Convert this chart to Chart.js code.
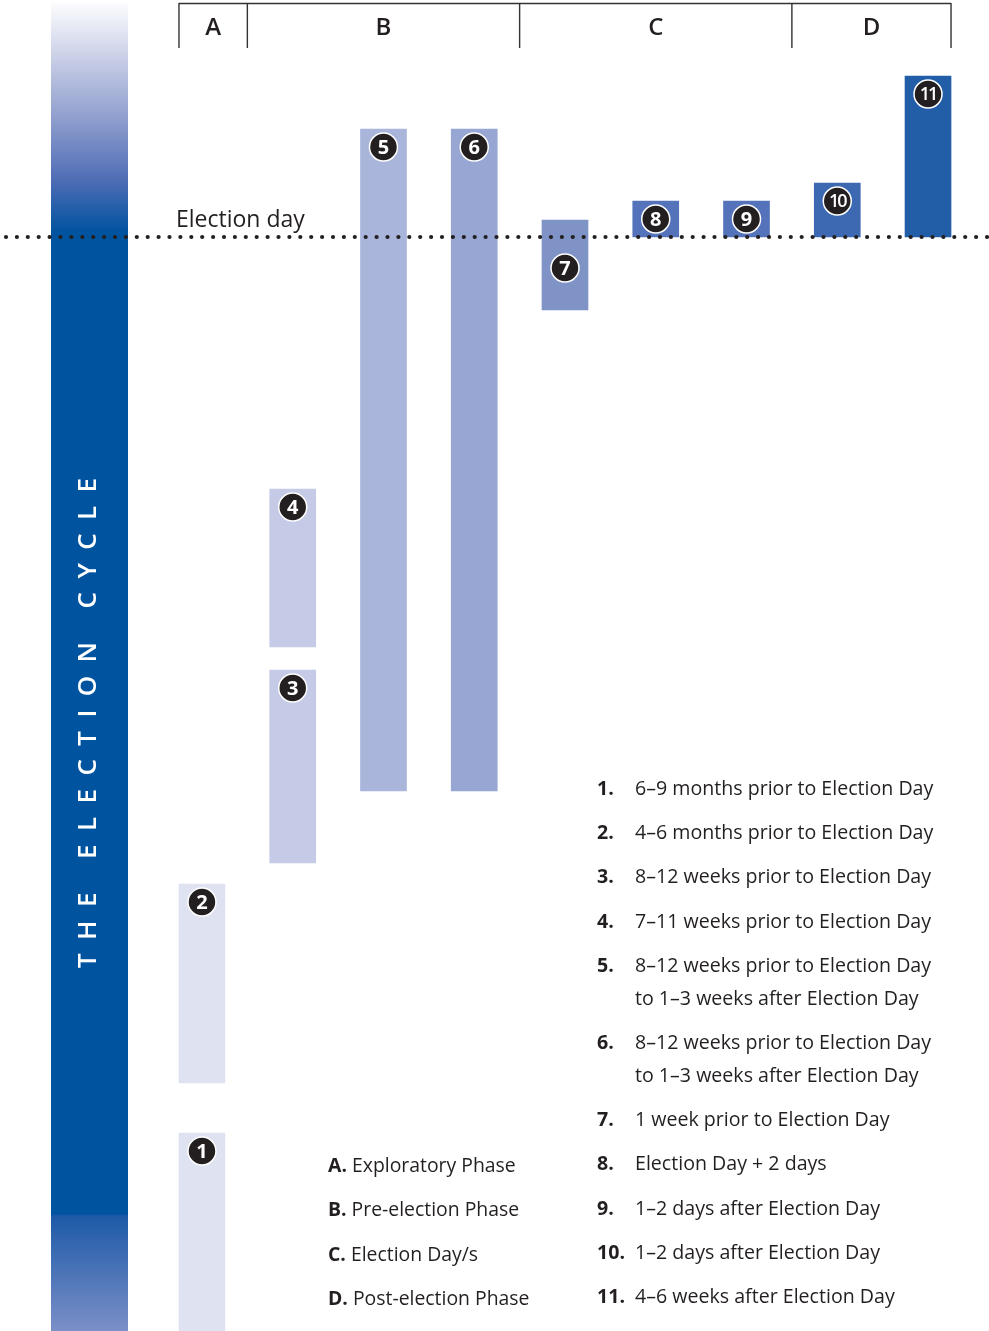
<!DOCTYPE html>
<html>
<head>
<meta charset="utf-8">
<script src="https://cdn.jsdelivr.net/npm/chart.js@4.4.0/dist/chart.umd.min.js"></script>
<style>
  body { margin: 0; background: #fff; font-family: "Open Sans", sans-serif; color: #231f20; }
  #wrap { position: relative; width: 989px; height: 1331px; overflow: hidden; }
  .row { position: absolute; font-size: 19.6px; line-height: 22px; white-space: nowrap; }
  .row b { position: absolute; left: 0; font-weight: 700; }
  .row span { position: absolute; left: 38px; }
  .phase { position: absolute; left: 328px; font-size: 19.4px; line-height: 22px; white-space: nowrap; }
  .phase b { font-weight: 700; }
</style>
</head>
<body>
<div id="wrap">
  <canvas id="chart"></canvas>
  <div id="legend"></div>
</div>
<script>
// columns along the x axis (bars 1-2 and 3-4 share a column)
const columnLabels = ['c1', 'c2', 'c3', 'c4', 'c5', 'c6', 'c7', 'c8', 'c9'];
// steps 1..11: column, start and end (time relative to election day, up = later)
const stepLabels = ['1', '2', '3', '4', '5', '6', '7', '8', '9', '10', '11'];
const stepColumn = [0, 0, 1, 1, 2, 3, 4, 5, 6, 7, 8];
const stepStart = [-109.4, -84.6, -62.6, -41.0, -55.4, -55.4, -7.3, 0, 0, 0, 0];
const stepEnd = [-89.6, -64.7, -43.3, -25.2, 10.8, 10.8, 1.7, 3.6, 3.6, 5.4, 16.1];
const stepColors = ['#dfe3f1', '#dfe3f1', '#c5cae6', '#c5cae6', '#aab5dc', '#97a6d2',
  '#7f93c7', '#5473bb', '#5473bb', '#3c69b2', '#225ea8'];
const stepText = [
  ['6–9 months prior to Election Day'],
  ['4–6 months prior to Election Day'],
  ['8–12 weeks prior to Election Day'],
  ['7–11 weeks prior to Election Day'],
  ['8–12 weeks prior to Election Day', 'to 1–3 weeks after Election Day'],
  ['8–12 weeks prior to Election Day', 'to 1–3 weeks after Election Day'],
  ['1 week prior to Election Day'],
  ['Election Day + 2 days'],
  ['1–2 days after Election Day'],
  ['1–2 days after Election Day'],
  ['4–6 weeks after Election Day']
];
// phases across the top
const phaseLabels = ['A', 'B', 'C', 'D'];
const phaseFirstCol = [0, 1, 4, 7];
const phaseLastCol = [0, 3, 6, 8];
const phaseNames = ['Exploratory Phase', 'Pre-election Phase', 'Election Day/s', 'Post-election Phase'];

const yMin = -109.4, yMax = 23.7;
const BAR_W = 46;

const framePlugin = {
  id: 'frame',
  beforeDraw(chart) {
    const ctx = chart.ctx;
    const h = chart.height;
    // left band
    ctx.save();
    const g = ctx.createLinearGradient(0, 0, 0, h);
    g.addColorStop(0, '#ffffff');
    g.addColorStop(60 / h, '#c8cde6');
    g.addColorStop(120 / h, '#8d9dcd');
    g.addColorStop(180 / h, '#4f6db5');
    g.addColorStop(232 / h, '#00539f');
    g.addColorStop(1214 / h, '#00539f');
    g.addColorStop(1216 / h, '#1d5aa7');
    g.addColorStop(1, '#7b8fc8');
    ctx.fillStyle = g;
    ctx.fillRect(51, 0, 77, h);
    // vertical title
    ctx.translate(88, 968);
    ctx.rotate(-Math.PI / 2);
    ctx.fillStyle = '#ffffff';
    ctx.font = '600 26px "Open Sans"';
    ctx.textBaseline = 'middle';
    const title = 'THE ELECTION CYCLE';
    let x = 0;
    for (const ch of title) {
      ctx.fillText(ch, x, 1);
      x += ctx.measureText(ch).width + 13.4;
    }
    ctx.restore();
  },
  afterDatasetsDraw(chart) {
    const ctx = chart.ctx;
    const xs = chart.scales.x, ys = chart.scales.y;
    const zero = ys.getPixelForValue(0);
    const slot = xs.getPixelForValue(1) - xs.getPixelForValue(0);

    // step badges
    const meta = chart.getDatasetMeta(0);
    meta.data.forEach((bar, i) => {
      const barTop = Math.min(bar.y, bar.base);
      const barBottom = Math.max(bar.y, bar.base);
      let cy = barTop + 18;
      // bar barely reaching above the line: badge goes below the line
      if (barTop < zero && zero - barTop < 30 && barBottom > zero + 20) cy = zero + 31;
      ctx.save();
      ctx.beginPath();
      ctx.arc(bar.x, cy, 14, 0, Math.PI * 2);
      ctx.fillStyle = '#231f20';
      ctx.fill();
      ctx.lineWidth = 1.5;
      ctx.strokeStyle = '#ffffff';
      ctx.stroke();
      ctx.fillStyle = '#ffffff';
      ctx.textAlign = 'center';
      ctx.textBaseline = 'middle';
      const lbl = stepLabels[i];
      ctx.font = lbl.length > 1 ? '600 18px "Open Sans"' : '700 20px "Open Sans"';
      if (lbl.length > 1) ctx.letterSpacing = '-2px';
      ctx.fillText(lbl, bar.x, cy + 1);
      ctx.restore();
    });

    // election day dotted line
    ctx.save();
    ctx.fillStyle = '#231f20';
    for (let x = 6; x < chart.width - 2; x += 10.9) {
      ctx.beginPath();
      ctx.arc(x, zero, 2.1, 0, Math.PI * 2);
      ctx.fill();
    }
    ctx.font = '400 23px "Open Sans"';
    ctx.textBaseline = 'alphabetic';
    ctx.fillText('Election day', 176, zero - 10);
    ctx.restore();

    // phase header
    ctx.save();
    ctx.strokeStyle = '#333333';
    ctx.lineWidth = 1.4;
    const edges = [];
    phaseLabels.forEach((p, i) => {
      const l = i === 0 ? xs.getPixelForValue(phaseFirstCol[i]) - BAR_W / 2
                        : xs.getPixelForValue(phaseFirstCol[i]) - slot / 2;
      const r = i === phaseLabels.length - 1 ? xs.getPixelForValue(phaseLastCol[i]) + BAR_W / 2
                        : xs.getPixelForValue(phaseLastCol[i]) + slot / 2;
      edges.push([l, r]);
    });
    ctx.beginPath();
    ctx.moveTo(edges[0][0], 3.5);
    ctx.lineTo(edges[edges.length - 1][1], 3.5);
    edges.forEach(([l, r]) => { ctx.moveTo(l, 3); ctx.lineTo(l, 48); });
    ctx.moveTo(edges[edges.length - 1][1], 3);
    ctx.lineTo(edges[edges.length - 1][1], 48);
    ctx.stroke();
    ctx.fillStyle = '#231f20';
    ctx.font = '600 24px "Open Sans"';
    ctx.textAlign = 'center';
    ctx.textBaseline = 'middle';
    edges.forEach(([l, r], i) => ctx.fillText(phaseLabels[i], (l + r) / 2, 28));
    ctx.restore();
  }
};

new Chart(document.getElementById('chart'), {
  type: 'bar',
  data: {
    labels: columnLabels,
    datasets: [{
      data: stepLabels.map((s, i) => ({ x: columnLabels[stepColumn[i]], y: [stepStart[i], stepEnd[i]] })),
      backgroundColor: stepColors,
      borderWidth: 0,
      borderSkipped: false,
      barThickness: BAR_W
    }]
  },
  options: {
    responsive: true,
    maintainAspectRatio: false,
    animation: false,
    layout: { padding: { left: 156.6, right: 15.6, top: 0, bottom: 0 } },
    scales: {
      x: { type: 'category', display: false, offset: true },
      y: { display: false, min: yMin, max: yMax }
    },
    plugins: { legend: { display: false }, tooltip: { enabled: false } }
  },
  plugins: [framePlugin]
});

// text legends
const legend = document.getElementById('legend');
let rowTop = 777;
stepText.forEach((lines, i) => {
  lines.forEach((t, j) => {
    const d = document.createElement('div');
    d.className = 'row';
    d.style.left = '597px';
    d.style.top = rowTop + 'px';
    d.style.width = '390px';
    d.innerHTML = (j === 0 ? '<b>' + stepLabels[i] + '.</b>' : '') + '<span>' + t + '</span>';
    legend.appendChild(d);
    rowTop += j < lines.length - 1 ? 33 : 44.2;
  });
});
phaseLabels.forEach((p, i) => {
  const d = document.createElement('div');
  d.className = 'phase';
  d.style.top = (1154 + i * 44.3) + 'px';
  d.innerHTML = '<b>' + p + '.</b> ' + phaseNames[i];
  legend.appendChild(d);
});
</script>
</body>
</html>
